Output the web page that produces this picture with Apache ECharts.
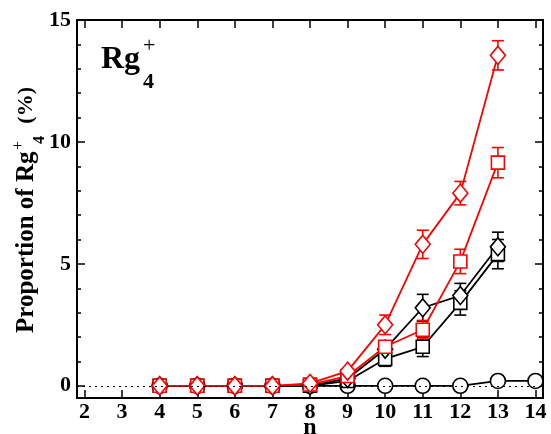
<!DOCTYPE html>
<html>
<head>
<meta charset="utf-8">
<script src="https://cdn.jsdelivr.net/npm/echarts@6/dist/echarts.min.js"></script>
<style>
  html, body { margin: 0; padding: 0; background: #fff; }
  #chart { width: 551px; height: 434px; }
</style>
</head>
<body>
<div id="chart"></div>
<script>
// n values and proportions (%)
const nCircle = [4, 5, 6, 7, 8, 9, 10, 11, 12, 13, 14];
const blackCircle = [0, 0, 0, 0, 0, 0, 0, 0, 0, 0.2, 0.2];
const blackCircleErr = [0, 0, 0, 0, 0, 0, 0, 0, 0, 0.05, 0.05];

const nRest = [4, 5, 6, 7, 8, 9, 10, 11, 12, 13];
const blackSquare = [0, 0, 0, 0, 0, 0.2, 1.1, 1.6, 3.4, 5.4];
const blackSquareErr = [0, 0, 0, 0, 0, 0.05, 0.3, 0.4, 0.5, 0.6];
const blackDiamond = [0, 0, 0, 0, 0, 0.3, 1.5, 3.2, 3.7, 5.7];
const blackDiamondErr = [0, 0, 0, 0, 0, 0.05, 0.3, 0.55, 0.5, 0.6];
const redSquare = [0, 0, 0, 0, 0.05, 0.4, 1.6, 2.3, 5.1, 9.15];
const redSquareErr = [0, 0, 0, 0, 0, 0.08, 0.2, 0.38, 0.5, 0.62];
const redDiamond = [0, 0, 0, 0, 0.1, 0.6, 2.5, 5.8, 7.9, 13.55];
const redDiamondErr = [0, 0, 0, 0, 0.03, 0.08, 0.4, 0.58, 0.48, 0.6];

const xTicks = [2, 3, 4, 5, 6, 7, 8, 9, 10, 11, 12, 13, 14];
const yTicks = [0, 5, 10, 15];
const yMinorTicks = [1, 2, 3, 4, 6, 7, 8, 9, 11, 12, 13, 14];

const FONT = 'Liberation Serif';
const RED = '#ff0000';
const BLACK = '#000000';

const chart = echarts.init(document.getElementById('chart'));

function pts(xs, ys) {
  return xs.map((x, i) => [x, ys[i]]);
}
function errData(xs, ys, es) {
  return xs.map((x, i) => [x, ys[i] - es[i], ys[i] + es[i]]);
}

function errorSeries(xs, ys, es, color) {
  return {
    type: 'custom',
    z: 1,
    silent: true,
    data: errData(xs, ys, es),
    renderItem: function (params, api) {
      const x = api.value(0);
      const lo = api.coord([x, api.value(1)]);
      const hi = api.coord([x, api.value(2)]);
      const w = 6;
      const style = { stroke: color, lineWidth: 1.6 };
      return {
        type: 'group',
        children: [
          { type: 'line', shape: { x1: lo[0], y1: lo[1], x2: hi[0], y2: hi[1] }, style: style },
          { type: 'line', shape: { x1: lo[0] - w, y1: lo[1], x2: lo[0] + w, y2: lo[1] }, style: style },
          { type: 'line', shape: { x1: hi[0] - w, y1: hi[1], x2: hi[0] + w, y2: hi[1] }, style: style }
        ]
      };
    }
  };
}

function lineSeries(xs, ys, color, symbol, size) {
  return {
    type: 'line',
    z: 2,
    data: pts(xs, ys),
    symbol: symbol,
    symbolSize: size,
    showAllSymbol: true,
    lineStyle: { color: color, width: 1.8 },
    itemStyle: { color: '#fff', borderColor: color, borderWidth: 1.6 },
    emphasis: { disabled: true }
  };
}

function xAxisDef(pos, showLabel) {
  return {
    type: 'value', min: 1.8, max: 14.2, position: pos,
    axisLine: { show: true, onZero: false, lineStyle: { color: BLACK, width: 2 } },
    splitLine: { show: false },
    axisTick: { show: true, inside: true, length: 8, lineStyle: { color: BLACK, width: 1.5 },
      customValues: xTicks },
    axisLabel: { show: showLabel, color: BLACK, fontFamily: FONT, fontWeight: 'bold', fontSize: 22, margin: 3,
      customValues: xTicks, formatter: v => String(v) }
  };
}

function yAxisDef(pos, ticks, len, showLine, showLabel) {
  return {
    type: 'value', min: -0.5, max: 15, position: pos,
    axisLine: { show: showLine, onZero: false, lineStyle: { color: BLACK, width: 2 } },
    splitLine: { show: false },
    axisTick: { show: true, inside: true, length: len, lineStyle: { color: BLACK, width: 1.5 },
      customValues: ticks },
    axisLabel: { show: showLabel, color: BLACK, fontFamily: FONT, fontWeight: 'bold', fontSize: 22, margin: 6,
      customValues: ticks, formatter: v => String(v) }
  };
}

const option = {
  animation: false,
  backgroundColor: '#fff',
  grid: { left: 77, right: 8, top: 20, bottom: 36, containLabel: false, outerBoundsMode: 'none' },
  xAxis: [xAxisDef('bottom', true), xAxisDef('top', false)],
  yAxis: [
    yAxisDef('left', yTicks, 8, true, true),
    yAxisDef('right', yTicks, 8, true, false),
    yAxisDef('left', yMinorTicks, 4, false, false),
    yAxisDef('right', yMinorTicks, 4, false, false)
  ],
  series: [
    {
      type: 'line', data: [], silent: true,
      markLine: {
        silent: true, symbol: 'none', label: { show: false },
        lineStyle: { color: BLACK, type: [2, 4], width: 1.2 },
        data: [{ yAxis: 0 }]
      }
    },
    errorSeries(nCircle, blackCircle, blackCircleErr, BLACK),
    errorSeries(nRest, blackSquare, blackSquareErr, BLACK),
    errorSeries(nRest, blackDiamond, blackDiamondErr, BLACK),
    errorSeries(nRest, redSquare, redSquareErr, RED),
    errorSeries(nRest, redDiamond, redDiamondErr, RED),
    lineSeries(nCircle, blackCircle, BLACK, 'circle', 15),
    lineSeries(nRest, blackSquare, BLACK, 'rect', 13),
    lineSeries(nRest, blackDiamond, BLACK, 'diamond', [15, 18]),
    lineSeries(nRest, redSquare, RED, 'rect', 13),
    lineSeries(nRest, redDiamond, RED, 'diamond', [15, 18])
  ],
  graphic: [
    // "Rg4+" label inside plot
    { type: 'text', x: 101, y: 60,
      style: { text: 'Rg', fill: BLACK, font: 'bold 32px ' + FONT, verticalAlign: 'middle' } },
    { type: 'text', x: 143, y: 82,
      style: { text: '4', fill: BLACK, font: 'bold 22px ' + FONT, verticalAlign: 'middle' } },
    { type: 'text', x: 143, y: 46,
      style: { text: '+', fill: BLACK, font: '22px ' + FONT, verticalAlign: 'middle' } },
    // x-axis title
    { type: 'text', x: 310, y: 428,
      style: { text: 'n', fill: BLACK, font: 'bold 24px ' + FONT, align: 'center', verticalAlign: 'middle' } },
    // rotated y-axis title
    {
      type: 'group', x: 0, y: 333, rotation: Math.PI / 2,
      children: [
        { type: 'text', x: 0, y: 26.5,
          style: { text: 'Proportion of Rg', fill: BLACK, font: 'bold 25px ' + FONT, verticalAlign: 'middle' } },
        { type: 'text', x: 189, y: 40,
          style: { text: '4', fill: BLACK, font: 'bold 16px ' + FONT, verticalAlign: 'middle' } },
        { type: 'text', x: 183, y: 18.5,
          style: { text: '+', fill: BLACK, font: '16px ' + FONT, verticalAlign: 'middle' } },
        { type: 'text', x: 246, y: 26.5,
          style: { text: '(%)', fill: BLACK, font: 'bold 22px ' + FONT, align: 'right', verticalAlign: 'middle' } }
      ]
    }
  ]
};

chart.setOption(option);
</script>
</body>
</html>
